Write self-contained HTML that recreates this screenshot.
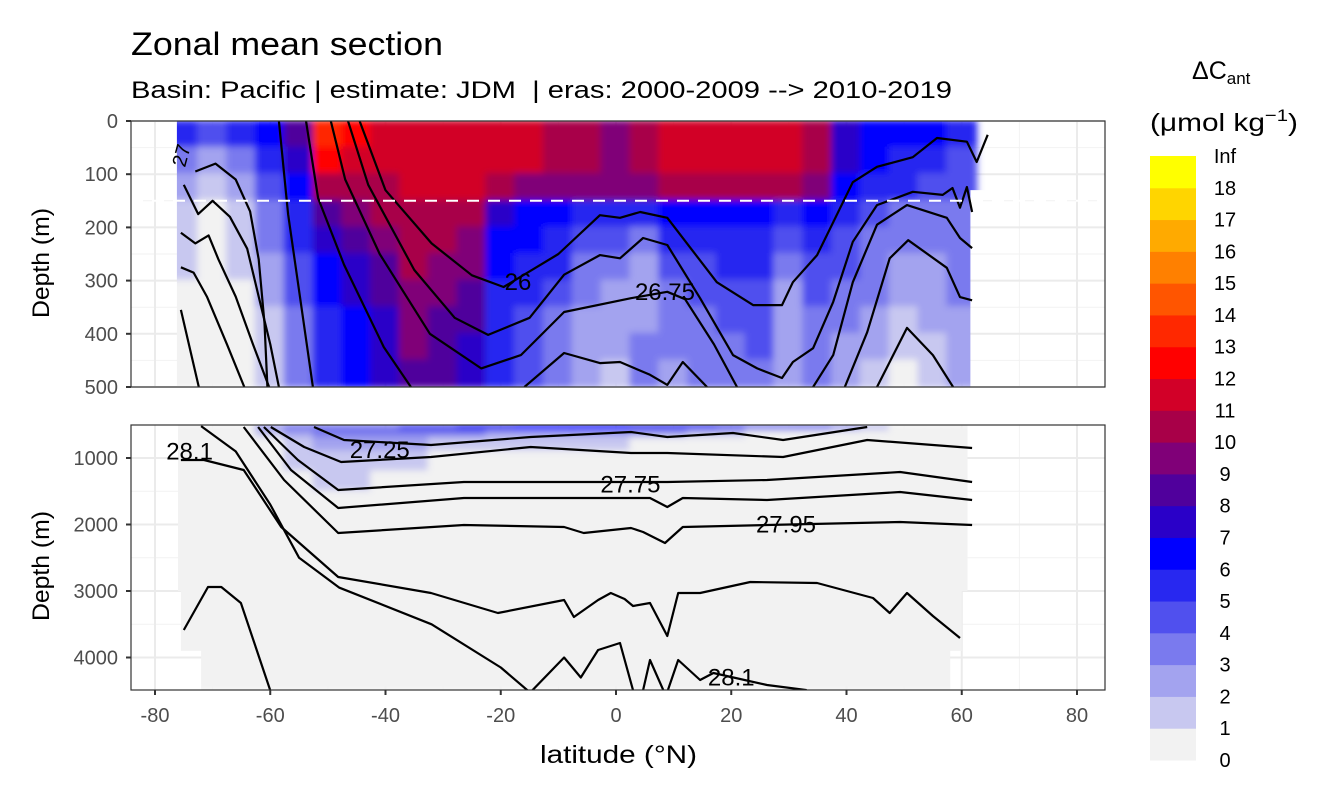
<!DOCTYPE html>
<html><head><meta charset="utf-8"><style>
html,body{margin:0;padding:0;background:#fff;}
svg{display:block;font-family:"Liberation Sans",sans-serif;}
</style></head><body>
<svg id="chart" width="1344" height="806" viewBox="0 0 1344 806" xmlns="http://www.w3.org/2000/svg">
<defs>
<clipPath id="clipTop"><rect x="131" y="121" width="974" height="266"/></clipPath>
<clipPath id="clipBot"><rect x="131" y="425" width="974" height="265"/></clipPath>
<filter id="soft" x="-5%" y="-5%" width="110%" height="110%"><feGaussianBlur stdDeviation="3.5"/></filter>
</defs>
<rect width="1344" height="806" fill="#fff"/>
<text x="131" y="55" font-size="32" textLength="312" lengthAdjust="spacingAndGlyphs" fill="#000">Zonal mean section</text>
<text x="131" y="98" font-size="24" textLength="821" lengthAdjust="spacingAndGlyphs" fill="#000" xml:space="preserve">Basin: Pacific | estimate: JDM  | eras: 2000-2009 --&gt; 2010-2019</text>
<g id="topPanel"></g>
<g id="botPanel"></g>
<text transform="translate(49,263) rotate(-90)" text-anchor="middle" font-size="24" textLength="110" lengthAdjust="spacingAndGlyphs">Depth (m)</text>
<text transform="translate(49,566) rotate(-90)" text-anchor="middle" font-size="24" textLength="110" lengthAdjust="spacingAndGlyphs">Depth (m)</text>
<text x="540" y="763" font-size="25" textLength="157" lengthAdjust="spacingAndGlyphs">latitude (°N)</text>
<g id="legend">
<text x="1192" y="79" font-size="25">ΔC<tspan font-size="17" dy="5">ant</tspan></text>
<text x="1150" y="131" font-size="25" textLength="148" lengthAdjust="spacingAndGlyphs">(μmol kg<tspan font-size="17" dy="-10">−1</tspan><tspan dy="10">)</tspan></text>
</g>
</svg>
<script>
// ---------- data ----------
const binLabels = ["0","1","2","3","4","5","6","7","8","9","10","11","12","13","14","15","16","17","18","Inf"];
const binColors = ["#f2f2f2","#c8c8f0","#a3a3ef","#7a7aee","#5050ee","#2828f0","#0000ff","#2a00c8","#50009c","#800078","#a80048","#d20028","#ff0000","#ff2800","#ff5500","#ff8000","#ffaa00","#ffd500","#ffff00"];
const latCenters = [-75,-70,-65,-60,-55,-50,-45,-40,-35,-30,-25,-20,-15,-10,-5,0,5,10,15,20,25,30,35,40,45,50,55,60];
const topDepthEdges = [0,50,100,150,200,250,300,350,400,450,500];
const topValues = [
[5,3,2,1,1,1,0,0,0,0],[4,2,1,0,0,0,0,0,0,0],[5,3,2,1,1,1,0,0,0,0],[6,5,4,3,3,2,2,1,1,1],
[8,7,6,5,5,4,4,3,3,3],[13,12,10,8,7,6,6,5,5,5],[12,11,10,9,8,7,7,6,6,6],[11,11,10,10,9,8,8,7,7,7],
[11,11,11,10,10,10,9,9,9,8],[11,11,11,10,10,9,9,8,8,8],[11,11,11,10,9,9,8,8,7,7],[11,11,10,7,6,6,5,5,5,5],
[11,11,9,6,6,5,5,4,4,4],[10,10,9,6,5,5,4,3,3,3],[10,10,9,5,4,3,3,2,2,2],[9,9,9,5,4,3,2,2,2,1],
[10,10,9,5,3,2,2,2,3,3],[11,11,10,6,5,4,3,3,3,2],[11,11,10,6,5,4,4,3,3,3],[11,11,10,6,5,5,4,4,3,3],
[11,11,10,6,5,5,4,4,4,3],[11,11,10,5,4,3,2,2,2,2],[10,10,9,6,5,4,4,3,3,3],[7,7,6,5,4,4,3,3,2,2],
[6,6,5,4,3,3,3,2,2,1],[6,5,5,3,3,2,2,1,1,0],[6,5,4,3,3,2,2,2,1,1],[5,4,4,3,3,3,3,2,2,2]
];
const botDepthEdges = [500,600,700,900,1200,1500,4490];
const botValues = [
[0,0,0,0,0,0],[0,0,0,0,0,0],[0,0,0,0,0,0],[2,1,0,0,0,0],
[3,2,1,1,0,0],[3,3,2,1,1,0],[3,3,2,1,1,0],[3,3,2,1,0,0],
[4,3,2,1,0,0],[4,3,1,0,0,0],[5,3,1,0,0,0],[5,2,1,0,0,0],
[6,2,1,0,0,0],[6,2,1,0,0,0],[6,2,1,0,0,0],[6,2,1,0,0,0],
[5,2,0,0,0,0],[5,2,0,0,0,0],[5,1,0,0,0,0],[4,1,0,0,0,0],
[3,0,0,0,0,0],[3,0,0,0,0,0],[3,0,0,0,0,0],[2,0,0,0,0,0],
[1,0,0,0,0,0],[0,0,0,0,0,0],[0,0,0,0,0,0],[0,0,0,0,0,0]
];
const topContourLats = [
[-75.5,-72.4],
[-75.5,-73.3,-71,-67.5,-64.5],
[-75.5,-73,-70.7,-69,-66,-63,-60.2],
[-75,-72.5,-70,-67,-64,-62,-60,-58.5],
[-73,-69.5,-66,-63.5,-62,-61,-60.5],
[-58.5,-56.9,-52.6],
[-53.8,-51.7,-47.2,-40.3,-35.6],
[-49.5,-47,-41,-32.3,-23.4,-16.5,-9,2.6,8.9,12,17,21],
[-46.5,-43,-35,-28,-22.2,-15,-9,-2.8,0.7,4.7,8.9,14.6,20.3,24.5,28.8,30.7,34.2,37.7,41.1,45.3,51.5,56.7,58.4,59.7,60.9,61.8],
[-44.5,-40,-32,-25,-19.5,-10,-2.8,0.7,4.2,8.9,17.5,23.8,28.8,30.7,34.9,41.1,45.3,51.5,55.7,60.9,62.6,64.5],
[-15.9,-9,-2.8,0.7,5.9,8.9,11.6,15.8],
[34.2,37.7,41.1,45.3,50.5,57.4,59.7,61.8],
[39.7,43.6,47.5,50.7,57.4,59.7,61.8],
[45.3,50.5,55,58.5]
];
const topContourDepths = [
[355,500],
[275,285,330,420,500],
[210,230,215,260,330,420,500],
[120,175,150,180,240,330,420,500],
[95,80,110,170,260,380,500],
[0,175,500],
[0,145,270,425,500],
[0,110,250,400,465,440,359,333,321,335,420,500],
[0,120,280,370,402,370,289,252,258,220,233,333,440,465,483,453,427,340,227,158,133,139,126,163,124,171],
[0,130,230,290,312,250,177,182,171,182,303,346,346,303,252,115,86,68,32,39,77,26],
[500,436,455,453,477,496,453,500],
[500,440,303,195,158,182,220,239],
[500,397,258,224,276,331,337],
[500,389,440,500]
];
const botContourLats = [
[-52.4,-47.2,-32.1,-14.8,2.6,8.9,20.3,29,43.6],
[-59.9,-54.1,-47.7,-32.1,-14.8,2.6,8.9,29,43.6,61.8],
[-61.1,-55.2,-48.2,-26.4,2.6,8.9,26.2,49.3,61.8],
[-62.1,-56.4,-48.2,-26.4,2.6,5.9,8.9,11.6,26.2,49.3,61.8],
[-64.6,-57.6,-48.2,-26.4,-9,-5.6,2.6,4.7,8.5,11.6,26.2,49.3,61.8],
[-75.5,-71.5,-64.6,-58.1,-48.2,-32.1,-20.5,-9,-7.3,-3.1,-0.9,1.5,2.95,5.9,8.9,10.8,14.6,23.3,34.9,44.6,47.5,50.5,55,59.7],
[-75,-70.8,-68.5,-65.1,-59.9],
[-72,-66,-60,-55,-48,-32,-20,-15],
[-14.8,-9,-6.1,-3.1,0.7,2.95],
[4.7,5.9,8.2],
[9.0,10.8,14.6,16.9,26.2,33.1]
];
const botContourDepths = [
[534,729,805,684,609,684,624,729,534],
[534,835,1060,985,835,925,925,985,729,850],
[534,1030,1481,1361,1361,1361,1331,1211,1361],
[534,1180,1752,1602,1602,1602,1737,1602,1632,1511,1632],
[534,1331,2128,2008,2038,2128,2053,2113,2278,2038,2008,1962,2008],
[1030,1030,1180,2038,2789,3030,3331,3135,3391,3135,3030,3120,3226,3180,3677,3030,3030,2865,2880,3105,3331,3030,3376,3707],
[3587,2940,2940,3180,4519],
[520,900,1700,2500,2950,3500,4150,4520],
[4519,4000,4301,3887,3782,4490],
[4490,4038,4490],
[4490,4038,4338,4233,4414,4490]
];
const contourLabels = [
{t:"26",lat:-17,d:303,p:"top"},{t:"26.75",lat:8.5,d:321,p:"top"},
{t:"28.1",lat:-74,d:900,p:"bot"},{t:"27.25",lat:-41,d:880,p:"bot"},
{t:"27.75",lat:2.5,d:1400,p:"bot"},{t:"27.95",lat:29.5,d:2000,p:"bot"},{t:"28.1",lat:20,d:4300,p:"bot"}
];
const xTicks = [-80,-60,-40,-20,0,20,40,60,80];
const topTicks = [0,100,200,300,400,500];
const botTicks = [1000,2000,3000,4000];

// ---------- scales ----------
const NS="http://www.w3.org/2000/svg";
const X0=131,X1=1105;
function xs(lat){return 155+(lat+80)*5.7625;}
function yT(d){return 121+d*0.532;}
function yB(d){return 458+(d-1000)*0.0665;}
function mk(tag,attrs,parent){const e=document.createElementNS(NS,tag);for(const k in attrs)e.setAttribute(k,attrs[k]);parent.appendChild(e);return e;}

function panel(g,y0,y1,yf,majors,minors,clipId,edges,values,dataClip,lines,linesD,which){
  mk('rect',{x:X0,y:y0,width:X1-X0,height:y1-y0,fill:'#fff'},g);
  const grid=mk('g',{},g);
  
  
  [-70,-50,-30,-10,10,30,50,70].forEach(l=>mk('line',{x1:xs(l),x2:xs(l),y1:y0,y2:y1,stroke:'#f2f2f2','stroke-width':1},grid));
  minors.forEach(d=>mk('line',{x1:X0,x2:X1,y1:yf(d),y2:yf(d),stroke:'#f2f2f2','stroke-width':1},grid));
  xTicks.forEach(l=>mk('line',{x1:xs(l),x2:xs(l),y1:y0,y2:y1,stroke:'#ebebeb','stroke-width':2},grid));
  majors.forEach(d=>mk('line',{x1:X0,x2:X1,y1:yf(d),y2:yf(d),stroke:'#ebebeb','stroke-width':2},grid));
  const cg=mk('g',{'clip-path':'url(#'+clipId+')'},g);
  const inner=mk('g',{'clip-path':'url(#'+dataClip+')'},cg);
  const fg=mk('g',{filter:'url(#soft)'},inner);
  
  
  latCenters.forEach((lc,i)=>{
    values[i].forEach((v,j)=>{
      const r=mk('rect',{x:xs(lc-2.5)-1,y:yf(edges[j])-1,width:xs(lc+2.5)-xs(lc-2.5)+2,height:yf(edges[j+1])-yf(edges[j])+2,fill:binColors[v]},fg);
      
      
    });
  });
  const lg=mk('g',{'clip-path':'url(#'+clipId+')'},g);
  lines.forEach((arr,k)=>{
    const pts=arr.map((l,i)=>xs(l).toFixed(1)+','+yf(linesD[k][i]).toFixed(1)).join(' ');
    const pl=mk('polyline',{points:pts,fill:'none',stroke:'#000','stroke-width':2.2,'stroke-linejoin':'round'},lg);
    
    
  });
  return lg;
}
const svg=document.getElementById('chart');
const defs=svg.querySelector('defs');
const dcT=mk('clipPath',{id:'dataTop'},defs);
mk('rect',{x:xs(-76.2),y:121,width:xs(61.5)-xs(-76.2),height:266},dcT);
mk('rect',{x:xs(61),y:121,width:xs(64.8)-xs(61),height:yT(130)-121},dcT);
const dcB=mk('clipPath',{id:'dataBot'},defs);
mk('rect',{x:xs(-76),y:425,width:xs(61)-xs(-76),height:yB(3000)-425},dcB);
mk('rect',{x:xs(-75.5),y:yB(3000),width:xs(60)-xs(-75.5),height:yB(3900)-yB(3000)},dcB);
mk('rect',{x:xs(-72),y:yB(3900),width:xs(58)-xs(-72),height:690-yB(3900)},dcB);

const topG=document.getElementById('topPanel');
const botG=document.getElementById('botPanel');
panel(topG,121,387,yT,topTicks,[50,150,250,350,450],'clipTop',topDepthEdges,topValues,'dataTop',topContourLats,topContourDepths,'upper');
const dl=mk('line',{x1:X0,x2:X1,y1:yT(150),y2:yT(150),stroke:'#fff','stroke-width':2,'stroke-dasharray':'12,9'},topG);


panel(botG,425,690,yB,botTicks,[1500,2500,3500],'clipBot',botDepthEdges,botValues,'dataBot',botContourLats,botContourDepths,'lower');

contourLabels.forEach(c=>{
  const g=c.p==='top'?topG:botG;
  const y=c.p==='top'?yT(c.d):yB(c.d);
  const t=mk('text',{x:xs(c.lat),y:y+8,'text-anchor':'middle','font-size':24,fill:'#000'},g);
  t.textContent=c.t;
  
  
});
const t27=mk('text',{x:0,y:0,'font-size':20,fill:'#000',transform:'translate(185,168) rotate(-75)'},topG);
t27.textContent='27';



[[topG,121,387,yT,topTicks,'upper'],[botG,425,690,yB,botTicks,'lower']].forEach(([g,y0,y1,yf,ticks,which])=>{
  const b=mk('rect',{x:X0,y:y0,width:X1-X0,height:y1-y0,fill:'none',stroke:'#333','stroke-width':1.2},g);
  
  
  ticks.forEach(d=>{
    mk('line',{x1:X0-5,x2:X0,y1:yf(d),y2:yf(d),stroke:'#333','stroke-width':2},g);
    const t=mk('text',{x:X0-13,y:yf(d)+7,'text-anchor':'end','font-size':20,fill:'#4d4d4d'},g);
    t.textContent=String(d);
    
    
  });
});
xTicks.forEach(l=>{
  mk('line',{x1:xs(l),x2:xs(l),y1:690,y2:695,stroke:'#333','stroke-width':2},botG);
  const t=mk('text',{x:xs(l),y:722,'text-anchor':'middle','font-size':20,fill:'#4d4d4d'},botG);
  t.textContent=String(l);
  
  
});

const leg=document.getElementById('legend');
const cbTop=156,cbBot=760,nb=binColors.length,bh=(cbBot-cbTop)/nb;
binColors.forEach((c,i)=>{
  const r=mk('rect',{x:1150,y:(cbBot-(i+1)*bh).toFixed(2),width:46,height:(bh+0.5).toFixed(2),fill:c},leg);
  
  
});
binLabels.forEach((s,i)=>{
  const t=mk('text',{x:1225,y:(cbBot-i*bh+7).toFixed(1),'text-anchor':'middle','font-size':20,fill:'#000'},leg);
  t.textContent=s;
  
  
});
</script>
</body></html>
